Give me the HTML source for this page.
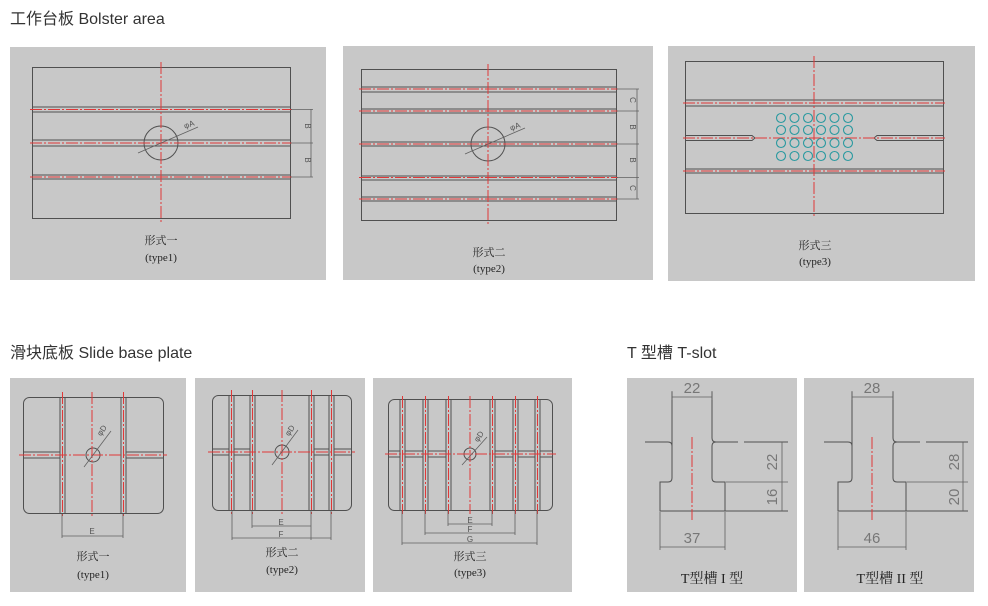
<!DOCTYPE html>
<html><head><meta charset="utf-8"><style>
html,body{margin:0;padding:0;background:#fff;width:988px;height:606px;overflow:hidden}
svg{display:block}
.k{stroke:#505050;fill:none;stroke-width:1}
.d{stroke:#606060;fill:none;stroke-width:0.8}
.r{stroke:#e03838;fill:none;stroke-width:1;stroke-dasharray:12 2 2 2}
.c{stroke:#2a9aa0;fill:none;stroke-width:1.1}
.h{font-family:"Liberation Sans","Noto Sans CJK SC",sans-serif;font-size:16px;fill:#333}
.cap{font-family:"Liberation Serif","Noto Serif CJK SC",serif;font-size:11px;fill:#222;text-anchor:middle}
.dm{font-family:"Liberation Sans",sans-serif;font-size:8px;fill:#555;text-anchor:middle}
.tn{font-family:"Liberation Sans",sans-serif;font-size:15px;fill:#777;text-anchor:middle}
.tc{font-family:"Liberation Serif","Noto Serif CJK SC",serif;font-size:14px;fill:#222;text-anchor:middle}
</style></head><body>
<svg width="988" height="606" viewBox="0 0 988 606" xmlns="http://www.w3.org/2000/svg">
<text class="h" x="10" y="24">工作台板 Bolster area</text>
<text class="h" x="10" y="358">滑块底板 Slide base plate</text>
<text class="h" x="627" y="358">T 型槽 T-slot</text>

<!-- Panel 1 -->
<rect x="10" y="47" width="316" height="233" fill="#c8c8c8"/>
<rect class="k" x="32.5" y="67.5" width="258" height="151"/>
<g class="k"><line x1="32" y1="107" x2="290" y2="107"/><line x1="32" y1="112" x2="290" y2="112"/>
<line x1="32" y1="140" x2="290" y2="140"/><line x1="32" y1="146" x2="290" y2="146"/>
<line x1="32" y1="175" x2="290" y2="175"/><line x1="32" y1="179" x2="290" y2="179"/></g>
<circle class="k" cx="161" cy="143" r="17"/>
<g class="r"><line x1="30" y1="109.5" x2="292" y2="109.5"/><line x1="30" y1="143" x2="292" y2="143"/><line x1="30" y1="177" x2="292" y2="177"/><line x1="161" y1="62" x2="161" y2="224"/></g>
<line class="d" x1="138" y1="153" x2="198" y2="127"/>
<text class="dm" x="190" y="127" transform="rotate(-20 190 127)">φA</text>
<g class="d"><line x1="291" y1="109.5" x2="313" y2="109.5"/><line x1="291" y1="143" x2="313" y2="143"/><line x1="291" y1="177" x2="313" y2="177"/><line x1="311" y1="109" x2="311" y2="177"/></g>
<text class="dm" x="305" y="126" transform="rotate(90 305 126)">B</text>
<text class="dm" x="305" y="160" transform="rotate(90 305 160)">B</text>
<text class="cap" x="161" y="244">形式一</text><text class="cap" x="161" y="261">(type1)</text>

<!-- Panel 2 -->
<rect x="343" y="46" width="310" height="234" fill="#c8c8c8"/>
<rect class="k" x="361.5" y="69.5" width="255" height="151"/>
<g class="k"><line x1="361" y1="87" x2="616" y2="87"/><line x1="361" y1="92" x2="616" y2="92"/>
<line x1="361" y1="109" x2="616" y2="109"/><line x1="361" y1="113" x2="616" y2="113"/>
<line x1="361" y1="142" x2="616" y2="142"/><line x1="361" y1="146" x2="616" y2="146"/>
<line x1="361" y1="176" x2="616" y2="176"/><line x1="361" y1="180" x2="616" y2="180"/>
<line x1="361" y1="197" x2="616" y2="197"/><line x1="361" y1="201" x2="616" y2="201"/></g>
<circle class="k" cx="488" cy="144" r="17"/>
<g class="r"><line x1="359" y1="89" x2="618" y2="89"/><line x1="359" y1="111" x2="618" y2="111"/><line x1="359" y1="144" x2="618" y2="144"/><line x1="359" y1="177.5" x2="618" y2="177.5"/><line x1="359" y1="199" x2="618" y2="199"/><line x1="488" y1="64" x2="488" y2="224"/></g>
<line class="d" x1="465" y1="154" x2="525" y2="128"/>
<text class="dm" x="516" y="129" transform="rotate(-20 516 129)">φA</text>
<g class="d"><line x1="617" y1="89" x2="639" y2="89"/><line x1="617" y1="111" x2="639" y2="111"/><line x1="617" y1="144" x2="639" y2="144"/><line x1="617" y1="177.5" x2="639" y2="177.5"/><line x1="617" y1="199" x2="639" y2="199"/><line x1="637" y1="89" x2="637" y2="199"/></g>
<text class="dm" x="630" y="100" transform="rotate(90 630 100)">C</text>
<text class="dm" x="630" y="127" transform="rotate(90 630 127)">B</text>
<text class="dm" x="630" y="160" transform="rotate(90 630 160)">B</text>
<text class="dm" x="630" y="188" transform="rotate(90 630 188)">C</text>
<text class="cap" x="489" y="256">形式二</text><text class="cap" x="489" y="272">(type2)</text>

<!-- Panel 3 -->
<rect x="668" y="46" width="307" height="235" fill="#c8c8c8"/>
<rect class="k" x="685.5" y="61.5" width="258" height="152"/>
<g class="k"><line x1="685" y1="100" x2="943" y2="100"/><line x1="685" y1="106" x2="943" y2="106"/>
<line x1="685" y1="169" x2="943" y2="169"/><line x1="685" y1="173" x2="943" y2="173"/>
<path d="M685 135.5H752l3 2.5l-3 2.5H685"/><path d="M943 135.5H877l-3 2.5l3 2.5H943"/></g>
<g class="r"><line x1="683" y1="103" x2="945" y2="103"/><line x1="683" y1="138" x2="945" y2="138"/><line x1="683" y1="171" x2="945" y2="171"/><line x1="814" y1="56" x2="814" y2="218"/></g>
<g class="c">
<circle cx="781" cy="118" r="4.5"/><circle cx="794.5" cy="118" r="4.5"/><circle cx="808" cy="118" r="4.5"/><circle cx="821" cy="118" r="4.5"/><circle cx="834.5" cy="118" r="4.5"/><circle cx="848" cy="118" r="4.5"/>
<circle cx="781" cy="130" r="4.5"/><circle cx="794.5" cy="130" r="4.5"/><circle cx="808" cy="130" r="4.5"/><circle cx="821" cy="130" r="4.5"/><circle cx="834.5" cy="130" r="4.5"/><circle cx="848" cy="130" r="4.5"/>
<circle cx="781" cy="143" r="4.5"/><circle cx="794.5" cy="143" r="4.5"/><circle cx="808" cy="143" r="4.5"/><circle cx="821" cy="143" r="4.5"/><circle cx="834.5" cy="143" r="4.5"/><circle cx="848" cy="143" r="4.5"/>
<circle cx="781" cy="156" r="4.5"/><circle cx="794.5" cy="156" r="4.5"/><circle cx="808" cy="156" r="4.5"/><circle cx="821" cy="156" r="4.5"/><circle cx="834.5" cy="156" r="4.5"/><circle cx="848" cy="156" r="4.5"/></g>
<text class="cap" x="815" y="249">形式三</text><text class="cap" x="815" y="265">(type3)</text>

<!-- Slide A -->
<rect x="10" y="378" width="176" height="214" fill="#c8c8c8"/>
<rect class="k" x="23.5" y="397.5" width="140" height="116" rx="6"/>
<g class="k"><line x1="60" y1="397" x2="60" y2="513"/><line x1="65" y1="397" x2="65" y2="513"/><line x1="121" y1="397" x2="121" y2="513"/><line x1="126" y1="397" x2="126" y2="513"/>
<line x1="23" y1="452" x2="60" y2="452"/><line x1="23" y1="458" x2="60" y2="458"/><line x1="126" y1="452" x2="163" y2="452"/><line x1="126" y1="458" x2="163" y2="458"/></g>
<circle class="k" cx="93" cy="455" r="7"/>
<g class="r"><line x1="62.5" y1="392" x2="62.5" y2="518"/><line x1="123.5" y1="392" x2="123.5" y2="518"/><line x1="92" y1="392" x2="92" y2="518"/><line x1="19" y1="455" x2="167" y2="455"/></g>
<line class="d" x1="84" y1="467" x2="111" y2="431"/><text class="dm" x="104" y="432" transform="rotate(-55 104 432)">φD</text>
<g class="d"><line x1="62" y1="514" x2="62" y2="538"/><line x1="123" y1="514" x2="123" y2="538"/><line x1="62" y1="536" x2="123" y2="536"/></g>
<text class="dm" x="92" y="534">E</text>
<text class="cap" x="93" y="560">形式一</text><text class="cap" x="93" y="578">(type1)</text>

<!-- Slide B -->
<rect x="195" y="378" width="170" height="214" fill="#c8c8c8"/>
<rect class="k" x="212.5" y="395.5" width="139" height="115" rx="6"/>
<g class="k"><line x1="229" y1="395" x2="229" y2="510"/><line x1="234" y1="395" x2="234" y2="510"/><line x1="250" y1="395" x2="250" y2="510"/><line x1="255" y1="395" x2="255" y2="510"/>
<line x1="309" y1="395" x2="309" y2="510"/><line x1="314" y1="395" x2="314" y2="510"/><line x1="329" y1="395" x2="329" y2="510"/><line x1="334" y1="395" x2="334" y2="510"/>
<path d="M212 449H229M234 449H250M212 455H229M234 455H250M314 449H329M334 449H351M314 455H329M334 455H351"/></g>
<circle class="k" cx="282" cy="452" r="7"/>
<g class="r"><line x1="231.5" y1="390" x2="231.5" y2="515"/><line x1="252.5" y1="390" x2="252.5" y2="515"/><line x1="311.5" y1="390" x2="311.5" y2="515"/><line x1="331.5" y1="390" x2="331.5" y2="515"/><line x1="282" y1="390" x2="282" y2="515"/><line x1="208" y1="452" x2="355" y2="452"/></g>
<line class="d" x1="272" y1="465" x2="298" y2="430"/><text class="dm" x="292" y="432" transform="rotate(-55 292 432)">φD</text>
<g class="d"><line x1="252" y1="511" x2="252" y2="528"/><line x1="311" y1="511" x2="311" y2="540"/><line x1="232" y1="511" x2="232" y2="540"/><line x1="331" y1="511" x2="331" y2="540"/><line x1="252" y1="526" x2="311" y2="526"/><line x1="232" y1="538" x2="331" y2="538"/></g>
<text class="dm" x="281" y="525">E</text><text class="dm" x="281" y="537">F</text>
<text class="cap" x="282" y="556">形式二</text><text class="cap" x="282" y="573">(type2)</text>

<!-- Slide C -->
<rect x="373" y="378" width="199" height="214" fill="#c8c8c8"/>
<rect class="k" x="388.5" y="399.5" width="164" height="111" rx="6"/>
<g class="k">
<path d="M400 399V510M405 399V510M423 399V510M428 399V510M446 399V510M451 399V510M490 399V510M495 399V510M513 399V510M518 399V510M535 399V510M540 399V510"/>
<path d="M388 451H400M405 451H423M428 451H446M388 457H400M405 457H423M428 457H446M495 451H513M518 451H535M540 451H552M495 457H513M518 457H535M540 457H552"/></g>
<circle class="k" cx="470" cy="454" r="6"/>
<g class="r"><path d="M402.5 396V514M425.5 396V514M448.5 396V514M470 396V514M492.5 396V514M515.5 396V514M537.5 396V514M385 454H556"/></g>
<line class="d" x1="462" y1="465" x2="487" y2="437"/><text class="dm" x="481" y="438" transform="rotate(-55 481 438)">φD</text>
<g class="d"><path d="M448 511V526M492 511V526M425 511V535M515 511V535M402 511V545M537 511V545M448 524H492M425 533H515M402 543H537"/></g>
<text class="dm" x="470" y="523">E</text><text class="dm" x="470" y="532">F</text><text class="dm" x="470" y="542">G</text>
<text class="cap" x="470" y="560">形式三</text><text class="cap" x="470" y="576">(type3)</text>

<!-- T-slot I -->
<rect x="627" y="378" width="170" height="214" fill="#c8c8c8"/>
<path class="k" d="M645 442H668q4 0 4 4V392M712 392V438q0 4 4 4H738M744 442H788M716 442q-4 0-4 4V478q0 4 4 4H725V511M668 442q4 0 4 4V478q0 4-4 4H660V511H788"/>
<path class="d" d="M672 391V400M712 391V400M672 397H712M726 482H788M782 442V511M660 512V550M725 512V550M660 547H725"/>
<line class="r" x1="692" y1="437" x2="692" y2="520"/>
<text class="tn" x="692" y="393">22</text>
<text class="tn" x="777" y="462" transform="rotate(-90 777 462)">22</text>
<text class="tn" x="777" y="497" transform="rotate(-90 777 497)">16</text>
<text class="tn" x="692" y="543">37</text>
<text class="tc" x="712" y="583">T型槽  I 型</text>

<!-- T-slot II -->
<rect x="804" y="378" width="170" height="214" fill="#c8c8c8"/>
<path class="k" d="M824 442H848q4 0 4 4V392M893 392V438q0 4 4 4H920M926 442H968M897 442q-4 0-4 4V478q0 4 4 4H906V511M848 442q4 0 4 4V478q0 4-4 4H838V511H968"/>
<path class="d" d="M852 391V400M893 391V400M852 397H893M907 482H968M963 442V511M838 512V550M906 512V550M838 547H906"/>
<line class="r" x1="872" y1="437" x2="872" y2="520"/>
<text class="tn" x="872" y="393">28</text>
<text class="tn" x="959" y="462" transform="rotate(-90 959 462)">28</text>
<text class="tn" x="959" y="497" transform="rotate(-90 959 497)">20</text>
<text class="tn" x="872" y="543">46</text>
<text class="tc" x="890" y="583">T型槽  II 型</text>
</svg>
</body></html>
